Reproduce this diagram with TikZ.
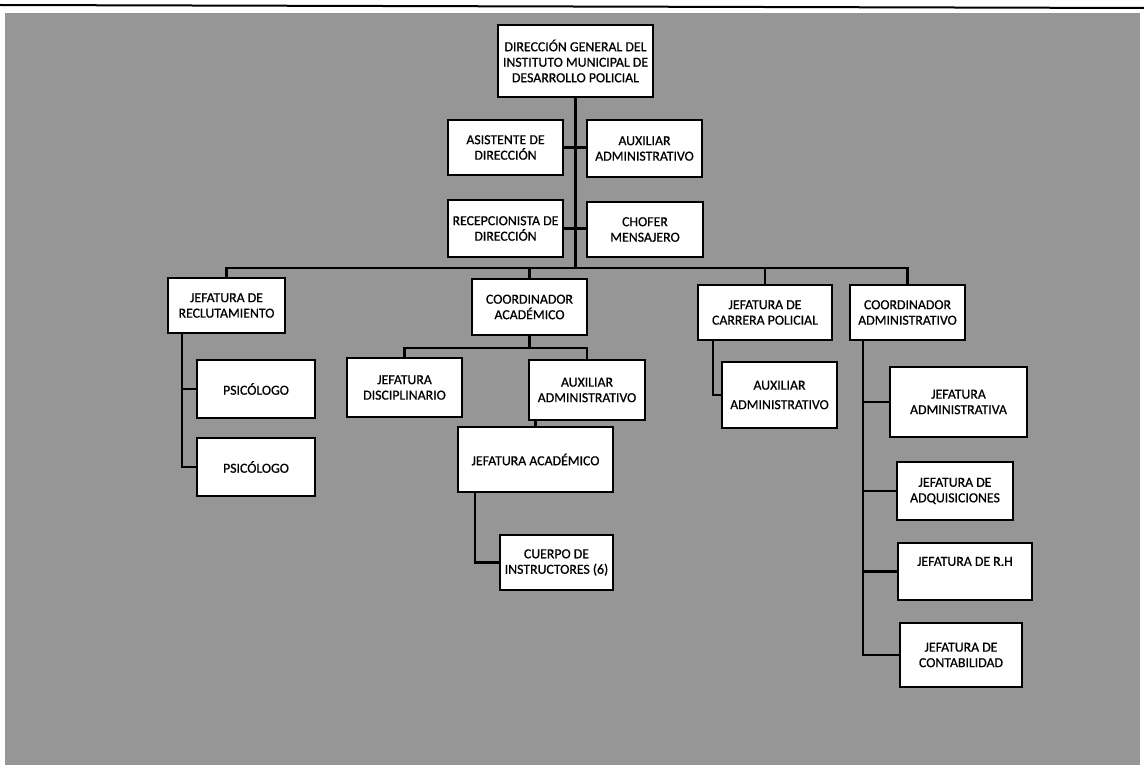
\documentclass[tikz,border=0pt]{standalone}
\usepackage{fontspec}
\setmainfont{Carlito}
\newfontfamily\boxfont{Carlito}[FakeBold=0.7]
\definecolor{bg}{RGB}{150,150,150}
\begin{document}
\begin{tikzpicture}[x=1pt,y=-1pt,
  box/.style={draw=black,fill=white,line width=2.8pt,align=center,inner sep=1pt,
    font=\boxfont\fontsize{13.8}{15.5}\selectfont},
  conn/.style={draw=black,line width=2.6pt}]
\useasboundingbox (0,0) rectangle (1144,770);
\fill[white] (0,0) rectangle (1144,770);
\fill[bg] (5,13) rectangle (1140,765);
\draw[line width=2pt] (0,5) -- (1144,8);

% coordinates
\coordinate (bus) at (575.5,268);
\coordinate (rl) at (182,333);
\coordinate (cb) at (529.5,348);
\coordinate (ja) at (475,492);
\coordinate (cp) at (713,340);
\coordinate (ca) at (863,340);

% nodes
\node[box,minimum width=155,minimum height=72] (dir) at (575.5,61) {DIRECCIÓN GENERAL DEL\\INSTITUTO MUNICIPAL DE\\DESARROLLO POLICIAL};
\node[box,minimum width=115,minimum height=55] (asis) at (505.5,147.5) {ASISTENTE DE\\DIRECCIÓN};
\node[box,minimum width=115,minimum height=57] (aux1) at (644.5,148.5) {AUXILIAR\\ADMINISTRATIVO};
\node[box,minimum width=115,minimum height=57] (recep) at (505.5,228.5) {RECEPCIONISTA DE\\DIRECCIÓN};
\node[box,minimum width=116,minimum height=55] (chof) at (645,229.5) {CHOFER\\MENSAJERO};

\node[box,minimum width=117,minimum height=55] (recl) at (226.5,305.5) {JEFATURA DE\\RECLUTAMIENTO};
\node[box,minimum width=118,minimum height=58] (psi1) at (256,389) {PSICÓLOGO};
\node[box,minimum width=118,minimum height=58] (psi2) at (256,467) {PSICÓLOGO};

\node[box,minimum width=115,minimum height=56] (coac) at (529.5,307) {COORDINADOR\\ACADÉMICO};
\node[box,minimum width=115,minimum height=59] (disc) at (404.5,387.5) {JEFATURA\\DISCIPLINARIO};
\node[box,minimum width=116,minimum height=60] (aux2) at (587,390) {AUXILIAR\\ADMINISTRATIVO};
\node[box,minimum width=155,minimum height=65] (jaca) at (535.5,459.5) {JEFATURA ACADÉMICO};
\node[box,minimum width=113,minimum height=55] (cuer) at (556.5,562.5) {CUERPO DE\\INSTRUCTORES (6)};

\node[box,minimum width=134,minimum height=55] (carr) at (765,312.5) {JEFATURA DE\\CARRERA POLICIAL};
\node[box,minimum width=115,minimum height=66] (aux3) at (779.5,395) {AUXILIAR\\[4pt]ADMINISTRATIVO};

\node[box,minimum width=115,minimum height=55] (coad) at (907.5,312.5) {COORDINADOR\\ADMINISTRATIVO};
\node[box,minimum width=137,minimum height=70] (jadm) at (958.5,402) {JEFATURA\\ADMINISTRATIVA};
\node[box,minimum width=116,minimum height=58] (jadq) at (955,491) {JEFATURA DE\\ADQUISICIONES};
\node[box,minimum width=134,minimum height=57] (jrh) at (965,571.5) {JEFATURA DE R.H\\\strut};
\node[box,minimum width=122,minimum height=64] (jcon) at (961,655) {JEFATURA DE\\CONTABILIDAD};

% connectors
\draw[conn] (dir.south) -- (bus);
\draw[conn] (asis.east) -- (asis.east -| aux1.west);
\draw[conn] (recep.east) -- (recep.east -| chof.west);
\draw[conn] (recl.north) |- (bus) -| (coad.north);
\draw[conn] (coac.north) -- (coac.north |- bus);
\draw[conn] (carr.north) -- (carr.north |- bus);
\draw[conn] (rl) |- (psi2.west);
\draw[conn] (rl |- psi1.west) -- (psi1.west);
\draw[conn] (coac.south) -- (cb);
\draw[conn] (disc.north) |- (cb) -| (aux2.north);
\draw[conn] (aux2.south -| jaca.north) -- (jaca.north);
\draw[conn] (ja) |- (cuer.west);
\draw[conn] (cp) |- (aux3.west);
\draw[conn] (ca) |- (jcon.west);
\draw[conn] (ca |- jadm.west) -- (jadm.west);
\draw[conn] (ca |- jadq.west) -- (jadq.west);
\draw[conn] (ca |- jrh.west) -- (jrh.west);
\end{tikzpicture}
\end{document}
